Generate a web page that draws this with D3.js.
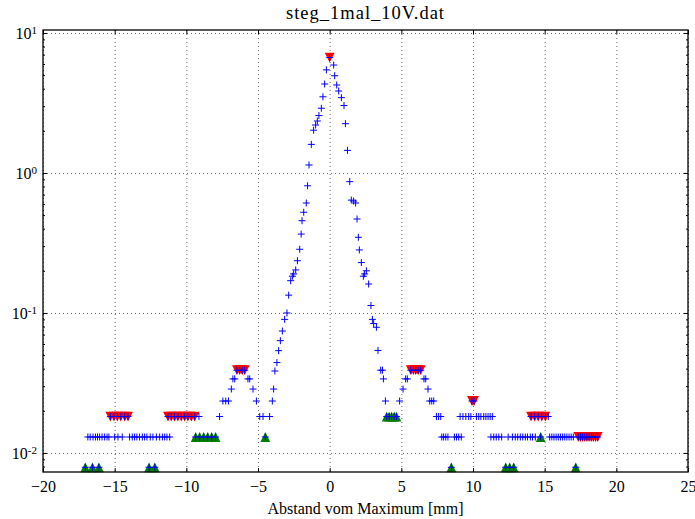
<!DOCTYPE html>
<html>
<head>
<meta charset="utf-8">
<script src="https://cdn.jsdelivr.net/npm/d3@7"></script>
<style>
body { margin: 0; background: #fff; }
text { font-family: "Liberation Serif", "DejaVu Serif", serif; fill: #000; }
</style>
</head>
<body>
<div id="chart"></div>
<script>
// labels and ticks
var chartTitle = "steg_1mal_10V.dat";
var xLabel = "Abstand vom Maximum [mm]";
var xTicks = [-20, -15, -10, -5, 0, 5, 10, 15, 20, 25];
var yDecades = [-2, -1, 0, 1];

// measured profile [x in mm, signal]
var scanPoints = [
  [-17.05,0.0079],[-16.87,0.0130],[-16.71,0.0130],[-16.55,0.0079],[-16.51,0.0130],[-16.34,0.0130],
  [-16.2,0.0130],[-16.1,0.0079],[-16.05,0.0130],[-15.88,0.0130],[-15.7,0.0130],[-15.53,0.0130],
  [-15.4,0.0130],[-15.3,0.0182],[-15.05,0.0182],[-15.0,0.0130],[-14.81,0.0182],[-14.77,0.0130],
  [-14.58,0.0182],[-14.47,0.0130],[-14.3,0.0182],[-14.07,0.0182],[-13.96,0.0130],[-13.77,0.0130],
  [-13.61,0.0130],[-13.45,0.0130],[-13.26,0.0130],[-13.07,0.0130],[-12.91,0.0130],[-12.75,0.0130],
  [-12.6,0.0079],[-12.52,0.0130],[-12.33,0.0130],[-12.2,0.0079],[-12.09,0.0130],[-11.86,0.0130],
  [-11.67,0.0130],[-11.51,0.0130],[-11.35,0.0130],[-11.28,0.0182],[-11.16,0.0130],[-11.05,0.0182],
  [-10.82,0.0182],[-10.59,0.0182],[-10.35,0.0182],[-10.12,0.0182],[-9.89,0.0182],[-9.65,0.0182],
  [-9.42,0.0182],[-9.35,0.0130],[-9.12,0.0182],[-9.07,0.0130],[-8.79,0.0130],[-8.51,0.0130],
  [-8.23,0.0130],[-7.96,0.0130],[-7.68,0.0182],[-7.45,0.0235],[-7.25,0.0235],[-7.06,0.0235],
  [-6.86,0.0286],[-6.75,0.0338],[-6.62,0.0338],[-6.47,0.0390],[-6.28,0.0390],[-6.1,0.0390],
  [-5.93,0.0390],[-5.7,0.0338],[-5.58,0.0338],[-5.35,0.0286],[-5.11,0.0235],[-4.88,0.0182],
  [-4.65,0.0182],[-4.49,0.0130],[-4.19,0.0182],[-4.0,0.0235],[-3.91,0.0286],[-3.82,0.0385],
  [-3.68,0.0442],[-3.56,0.0538],[-3.44,0.0634],[-3.3,0.0743],[-3.14,0.090],[-2.98,0.100],
  [-2.86,0.134],[-2.72,0.170],[-2.6,0.183],[-2.51,0.190],[-2.37,0.203],[-2.25,0.236],
  [-2.09,0.285],[-1.99,0.366],[-1.93,0.456],[-1.81,0.524],[-1.63,0.61],[-1.54,0.81],
  [-1.44,1.14],[-1.28,1.6],[-1.12,2.02],[-0.98,2.2],[-0.86,2.35],[-0.75,2.57],
  [-0.58,2.9],[-0.47,3.5],[-0.35,4.32],[-0.23,5.45],[0,6.67],[0.28,5.9],
  [0.35,4.95],[0.49,4.25],[0.63,3.85],[0.82,3.45],[1.0,3.03],[1.1,2.25],
  [1.24,1.45],[1.4,0.867],[1.51,0.64],[1.67,0.63],[1.81,0.61],[1.91,0.469],
  [2.0,0.347],[2.07,0.282],[2.21,0.229],[2.35,0.183],[2.44,0.19],[2.56,0.2],
  [2.72,0.161],[2.88,0.113],[2.98,0.09],[3.07,0.084],[3.26,0.079],[3.37,0.054],
  [3.56,0.039],[3.68,0.039],[3.75,0.0338],[3.89,0.0235],[3.98,0.0182],[4.15,0.0182],
  [4.32,0.0182],[4.5,0.0182],[4.66,0.0182],[4.88,0.0235],[5.12,0.0286],[5.3,0.0338],
  [5.42,0.0338],[5.66,0.0390],[5.84,0.0390],[6.0,0.0390],[6.17,0.0390],[6.35,0.0390],
  [6.58,0.0338],[6.7,0.0338],[6.86,0.0286],[6.98,0.0235],[7.12,0.0235],[7.26,0.0235],
  [7.45,0.0182],[7.6,0.0182],[7.75,0.0182],[7.82,0.0130],[7.95,0.0130],[8.1,0.0130],
  [8.25,0.0130],[8.49,0.0079],[8.7,0.0130],[8.85,0.0130],[9.0,0.0130],[9.1,0.0182],
  [9.18,0.0130],[9.3,0.0182],[9.5,0.0182],[9.7,0.0182],[9.85,0.0182],[9.93,0.0235],
  [10.07,0.0235],[10.24,0.0182],[10.4,0.0182],[10.55,0.0182],[10.75,0.0182],[10.9,0.0182],
  [11.05,0.0182],[11.2,0.0182],[11.25,0.0130],[11.35,0.0182],[11.45,0.0130],[11.62,0.0130],
  [11.8,0.0130],[12.0,0.0130],[12.28,0.0079],[12.45,0.0130],[12.56,0.0079],[12.75,0.0130],
  [12.84,0.0079],[12.95,0.0130],[13.12,0.0130],[13.3,0.0130],[13.47,0.0130],[13.65,0.0130],
  [13.8,0.0130],[14.0,0.0130],[14.05,0.0182],[14.15,0.0130],[14.3,0.0182],[14.35,0.0130],
  [14.55,0.0182],[14.72,0.0130],[14.8,0.0182],[15.05,0.0182],[15.25,0.0182],[15.35,0.0130],
  [15.5,0.0130],[15.65,0.0130],[15.8,0.0130],[15.95,0.0130],[16.1,0.0130],[16.25,0.0130],
  [16.4,0.0130],[16.55,0.0130],[16.7,0.0130],[16.85,0.0130],[17.0,0.0130],[17.17,0.0079],
  [17.35,0.0130],[17.5,0.0130],[17.65,0.0130],[17.8,0.0130],[17.95,0.0130],[18.1,0.0130],
  [18.25,0.0130],[18.4,0.0130],[18.55,0.0130],[18.7,0.0130]
];

// local maxima (red)
var maxima = [
  [-15.3,0.0182],[-15.05,0.0182],[-14.81,0.0182],[-14.58,0.0182],[-14.3,0.0182],[-14.07,0.0182],
  [-11.28,0.0182],[-11.05,0.0182],[-10.82,0.0182],[-10.59,0.0182],[-10.35,0.0182],[-10.12,0.0182],
  [-9.89,0.0182],[-9.65,0.0182],[-9.42,0.0182],
  [-6.47,0.0390],[-6.28,0.0390],[-6.1,0.0390],[-5.93,0.0390],
  [0,6.67],
  [5.66,0.0390],[5.84,0.0390],[6.0,0.0390],[6.17,0.0390],[6.35,0.0390],
  [9.93,0.0235],[10.07,0.0235],
  [14.05,0.0182],[14.3,0.0182],[14.55,0.0182],[14.8,0.0182],[15.05,0.0182],
  [17.35,0.0130],[17.5,0.0130],[17.65,0.0130],[17.8,0.0130],[17.95,0.0130],[18.1,0.0130],
  [18.25,0.0130],[18.4,0.0130],[18.55,0.0130],[18.7,0.0130]
];

// local minima (green)
var minima = [
  [-17.05,0.0079],[-16.55,0.0079],[-16.1,0.0079],[-12.6,0.0079],[-12.2,0.0079],
  [-9.35,0.0130],[-9.07,0.0130],[-8.79,0.0130],[-8.51,0.0130],[-8.23,0.0130],[-7.96,0.0130],
  [-4.49,0.0130],
  [3.98,0.0182],[4.15,0.0182],[4.32,0.0182],[4.5,0.0182],[4.66,0.0182],
  [8.49,0.0079],[12.28,0.0079],[12.56,0.0079],[12.84,0.0079],[14.72,0.0130],[17.17,0.0079]
];

var W = 695, H = 519;
var margin = {top: 30, right: 7, bottom: 47, left: 43},
    width = W - margin.left - margin.right,
    height = H - margin.top - margin.bottom;

var x = d3.scaleLinear().domain([-20, 25]).range([0, width]);
var y = d3.scaleLog().domain([0.00731, 10.5]).range([height, 0]);

var svg = d3.select("#chart").append("svg")
    .attr("width", W)
    .attr("height", H);
var g = svg.append("g")
    .attr("transform", "translate(" + margin.left + "," + margin.top + ")");

var yMajor = yDecades.map(function(d) { return Math.pow(10, d); });
var yMinor = [];
[-3, -2, -1, 0, 1].forEach(function(dec) {
  for (var k = 2; k <= 9; k++) {
    var v = k * Math.pow(10, dec);
    if (v > y.domain()[0] && v < y.domain()[1]) yMinor.push(v);
  }
});

// grid
g.append("g")
  .attr("class", "grid")
  .call(d3.axisBottom(x).tickValues(xTicks).tickSize(height).tickFormat(""))
  .call(function(s) { s.select(".domain").remove(); });
g.append("g")
  .attr("class", "grid")
  .call(d3.axisLeft(y).tickValues(yMajor).tickSize(-width).tickFormat(""))
  .call(function(s) { s.select(".domain").remove(); });
g.selectAll(".grid line")
  .attr("stroke", "#000")
  .attr("stroke-width", 0.6)
  .attr("stroke-dasharray", "1,3");

// markers
var tri = 4.9;
var downTri = "M" + (-tri) + "," + (-tri) + "L" + tri + "," + (-tri) + "L0," + tri + "Z";
var upTri = "M" + (-tri) + "," + tri + "L" + tri + "," + tri + "L0," + (-tri) + "Z";

g.append("g").selectAll("path")
  .data(maxima)
  .enter().append("path")
  .attr("d", downTri)
  .attr("transform", function(d) { return "translate(" + x(d[0]) + "," + y(d[1]) + ")"; })
  .attr("fill", "#ff0000");

g.append("g").selectAll("path")
  .data(minima)
  .enter().append("path")
  .attr("d", upTri)
  .attr("transform", function(d) { return "translate(" + x(d[0]) + "," + y(d[1]) + ")"; })
  .attr("fill", "#008000");

g.append("g").selectAll("path")
  .data(scanPoints)
  .enter().append("path")
  .attr("d", "M-3.5,0H3.5M0,-3.5V3.5")
  .attr("transform", function(d) { return "translate(" + x(d[0]) + "," + y(d[1]) + ")"; })
  .attr("stroke", "#0000ff")
  .attr("stroke-width", 1)
  .attr("fill", "none");

// ticks (inward, all four sides)
var xb = g.append("g")
  .attr("transform", "translate(0," + height + ")")
  .call(d3.axisBottom(x).tickValues(xTicks).tickSizeInner(-4).tickSizeOuter(0).tickPadding(9));
xb.selectAll("text").style("font-size", "16px");
g.append("g")
  .call(d3.axisTop(x).tickValues(xTicks).tickSizeInner(-4).tickSizeOuter(0).tickFormat(""));

var yl = g.append("g")
  .call(d3.axisLeft(y).tickValues(yMajor).tickSizeInner(-4).tickSizeOuter(0).tickPadding(7).tickFormat(""));
g.append("g")
  .call(d3.axisLeft(y).tickValues(yMinor).tickSizeInner(-2).tickSizeOuter(0).tickFormat(""));
g.append("g")
  .attr("transform", "translate(" + width + ",0)")
  .call(d3.axisRight(y).tickValues(yMajor).tickSizeInner(-4).tickSizeOuter(0).tickFormat(""));
g.append("g")
  .attr("transform", "translate(" + width + ",0)")
  .call(d3.axisRight(y).tickValues(yMinor).tickSizeInner(-2).tickSizeOuter(0).tickFormat(""));
g.selectAll(".domain").remove();
g.selectAll(".tick line").filter(function() { return this.parentNode.parentNode.getAttribute("class") !== "grid"; })
  .attr("stroke", "#000");

// y tick labels 10^n
yl.selectAll(".tick").each(function(d) {
  var t = d3.select(this).append("text")
    .attr("x", -6)
    .attr("dy", "0.35em")
    .attr("text-anchor", "end")
    .style("font-size", "16px");
  t.append("tspan").text("10");
  t.append("tspan")
    .attr("dy", "-0.45em")
    .style("font-size", "11px")
    .text(String(Math.round(Math.log10(d))));
});

// frame
g.append("rect")
  .attr("width", width)
  .attr("height", height)
  .attr("fill", "none")
  .attr("stroke", "#000")
  .attr("stroke-width", 1.3);

// title and x label
svg.append("text")
  .attr("x", margin.left + width / 2)
  .attr("y", 19)
  .attr("text-anchor", "middle")
  .style("font-size", "18.5px")
  .style("letter-spacing", "1px")
  .text(chartTitle);
svg.append("text")
  .attr("x", margin.left + width / 2)
  .attr("y", 514)
  .attr("text-anchor", "middle")
  .style("font-size", "16px")
  .text(xLabel);
</script>
</body>
</html>
